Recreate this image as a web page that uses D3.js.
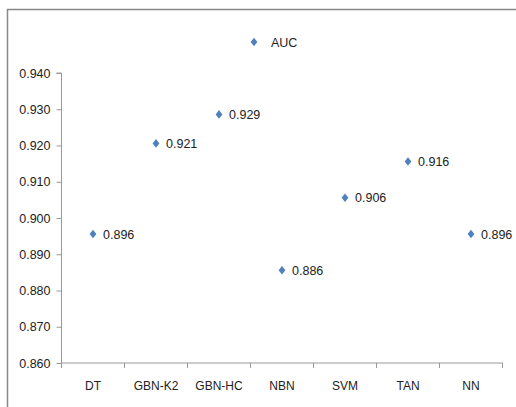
<!DOCTYPE html>
<html><head><meta charset="utf-8">
<script src="https://cdn.jsdelivr.net/npm/d3@7"></script>
<style>body{margin:0;background:#fff;} text{font-family:"Liberation Sans",Arial,sans-serif;}</style>
</head><body><svg id="c" width="516" height="407"></svg>
<script>
const categories = ["DT","GBN-K2","GBN-HC","NBN","SVM","TAN","NN"];
const aucValues = [0.896,0.921,0.929,0.886,0.906,0.916,0.896];
const yTicks = [0.860,0.870,0.880,0.890,0.900,0.910,0.920,0.930,0.940];
const seriesName = "AUC";

(function(){
const svg = d3.select("#c");
const color = "#4f81bd";
svg.append("line").attr("x1",7).attr("x2",516).attr("y1",9.5).attr("y2",9.5).attr("stroke","#888").attr("stroke-width",1.5);
svg.append("line").attr("x1",7.5).attr("x2",7.5).attr("y1",9).attr("y2",407).attr("stroke","#888").attr("stroke-width",1.5);

const pLeft=61.5, pRight=502.5, pTop=73, pBottom=363;
const x = d3.scaleBand().domain(categories).range([pLeft,pRight]);
const y = d3.scaleLinear().domain([0.86,0.94]).range([pBottom,pTop]);

const yAxis = svg.append("g").attr("transform",`translate(${pLeft},0)`)
  .call(d3.axisLeft(y).tickValues(yTicks).tickFormat(d3.format(".3f")).tickSize(5).tickPadding(6));
yAxis.select(".domain").attr("stroke","#999").attr("d",`M-5,${pTop}H0V${pBottom}`);
yAxis.selectAll(".tick line").attr("stroke","#999");
yAxis.selectAll("text").attr("font-size",12.5).attr("fill","#222").attr("font-family","Liberation Sans, Arial, sans-serif");

const xAxis = svg.append("g").attr("transform",`translate(0,${pBottom})`)
  .call(d3.axisBottom(x).tickSize(0).tickPadding(18));
xAxis.select(".domain").attr("stroke","#999").attr("d",`M${pLeft},0H${pRight}`);
xAxis.selectAll("text").attr("font-size",12).attr("fill","#222").attr("font-family","Liberation Sans, Arial, sans-serif");
const bounds = categories.map((c)=>x(c)+x.bandwidth()).concat([pLeft]);
svg.append("g").selectAll("line").data(bounds).join("line")
  .attr("x1",d=>d).attr("x2",d=>d).attr("y1",pBottom).attr("y2",pBottom+5).attr("stroke","#999");

const diamondType = { draw(ctx, size){ const w=3.4, h=4.3; ctx.moveTo(0,-h); ctx.lineTo(w,0); ctx.lineTo(0,h); ctx.lineTo(-w,0); ctx.closePath(); } };
const diamond = d3.symbol().type(diamondType);
const pts = svg.append("g");
pts.selectAll("path").data(aucValues).join("path")
  .attr("d",diamond)
  .attr("transform",(d,i)=>`translate(${x(categories[i])+x.bandwidth()/2},${y(d)+1.5})`)
  .attr("fill",color);
pts.selectAll("text").data(aucValues).join("text")
  .attr("x",(d,i)=>x(categories[i])+x.bandwidth()/2+10)
  .attr("y",(d)=>y(d)+6)
  .attr("font-size",12.5).attr("fill","#222")
  .text(d=>d3.format(".3f")(d));

svg.append("path").attr("d",diamond).attr("transform","translate(254,42)").attr("fill",color);
svg.append("text").attr("x",271).attr("y",46.5).attr("font-size",12.5).attr("fill","#222").text(seriesName);
})();
</script></body></html>
